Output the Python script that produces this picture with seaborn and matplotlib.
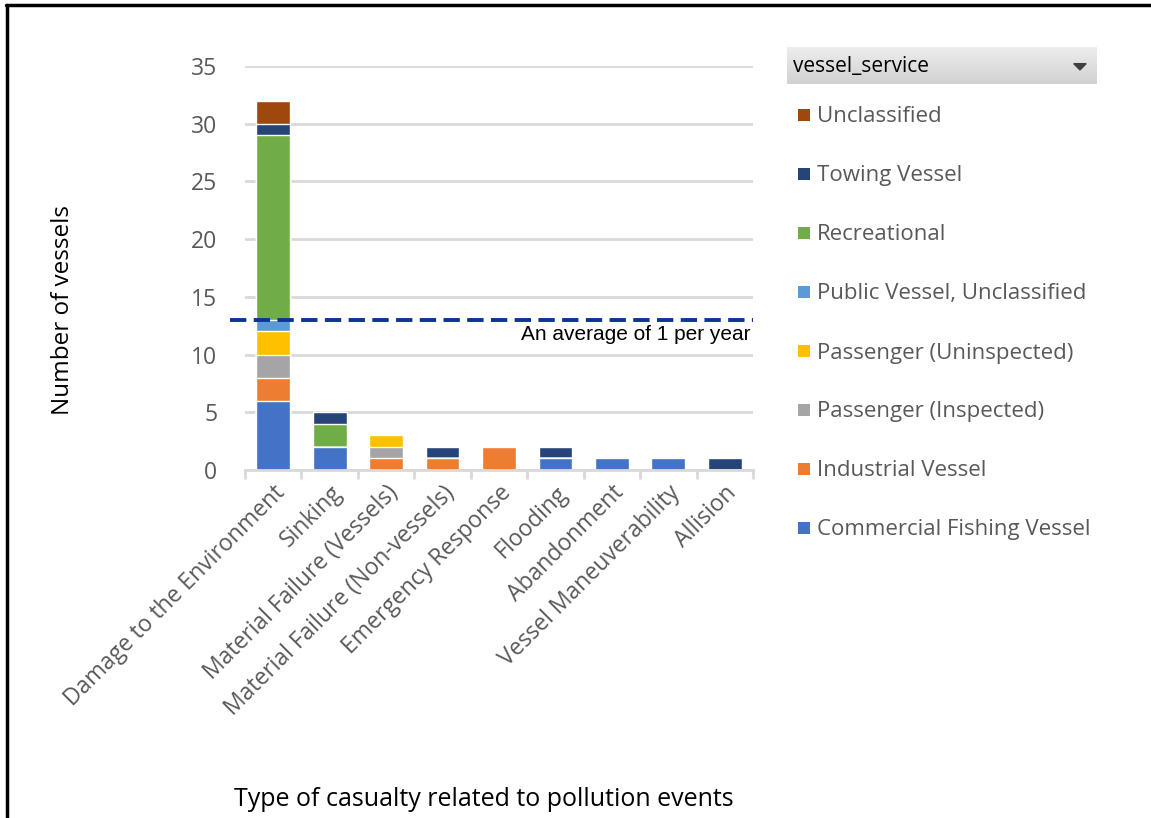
import numpy as np
import pandas as pd
import matplotlib
matplotlib.use("Agg")
import matplotlib.pyplot as plt
from matplotlib.patches import Rectangle, Polygon
from matplotlib.lines import Line2D
import seaborn as sns

# Casualty types (x categories)
casualty_types = [
    "Damage to the Environment", "Sinking", "Material Failure (Vessels)",
    "Material Failure (Non-vessels)", "Emergency Response", "Flooding",
    "Abandonment", "Vessel Maneuverability", "Allision",
]

# Vessel service levels, bottom of the stack first
services = [
    "Commercial Fishing Vessel", "Industrial Vessel", "Passenger (Inspected)",
    "Passenger (Uninspected)", "Public Vessel, Unclassified", "Recreational",
    "Towing Vessel", "Unclassified",
]

commercial_fishing = [6, 2, 0, 0, 0, 1, 1, 1, 0]
industrial = [2, 0, 1, 1, 2, 0, 0, 0, 0]
passenger_inspected = [2, 0, 1, 0, 0, 0, 0, 0, 0]
passenger_uninspected = [2, 0, 1, 0, 0, 0, 0, 0, 0]
public_vessel = [1, 0, 0, 0, 0, 0, 0, 0, 0]
recreational = [16, 2, 0, 0, 0, 0, 0, 0, 0]
towing = [1, 1, 0, 1, 0, 1, 0, 0, 1]
unclassified = [2, 0, 0, 0, 0, 0, 0, 0, 0]

average_per_year = 13
y_ticks = [0, 5, 10, 15, 20, 25, 30, 35]

colors = ["#4472C4", "#ED7D31", "#A5A5A5", "#FFC000",
          "#5B9BD5", "#70AD47", "#264478", "#9E480E"]

series = [commercial_fishing, industrial, passenger_inspected, passenger_uninspected,
          public_vessel, recreational, towing, unclassified]

df = pd.DataFrame({"casualty": casualty_types})
cum = np.zeros(len(casualty_types))
for name, vals in zip(services, series):
    cum = cum + np.array(vals)
    df[name] = cum.copy()

sns.set_theme(style="white")
plt.rcParams["font.family"] = ["Open Sans", "DejaVu Sans"]

fig = plt.figure(figsize=(11.51, 8.18), dpi=100)
ax = fig.add_axes([245 / 1151, 1 - 470 / 818, (753 - 245) / 1151, (470 - 66) / 818])

# Draw cumulative totals from the top layer down so lower layers overlay
for name, color in reversed(list(zip(services, colors))):
    sns.barplot(data=df, x="casualty", y=name, color=color, width=0.6,
                saturation=1, ax=ax, order=casualty_types, zorder=3)

ax.set_ylim(0, 35)
ax.set_xlim(-0.5, len(casualty_types) - 0.5)
ax.set_yticks(y_ticks)
ax.yaxis.grid(True, color="#d9d9d9", linewidth=2, zorder=0)
ax.set_axisbelow(True)
for s in ["top", "right", "left"]:
    ax.spines[s].set_visible(False)
ax.spines["bottom"].set_color("#d9d9d9")
ax.spines["bottom"].set_linewidth(2)
ax.spines["bottom"].set_zorder(4)

ax.tick_params(axis="y", labelsize=16.5, labelcolor="#595959", length=0, pad=20)
ax.set_xticks(np.arange(len(casualty_types)))
ax.set_xticklabels(casualty_types, rotation=45, ha="right", rotation_mode="anchor",
                   fontsize=16.5, color="#595959")
ax.tick_params(axis="x", length=0, pad=8)
# Category boundary tick marks
for b in np.arange(-0.5, len(casualty_types)):
    ax.plot([b, b], [0, -0.7], color="#d9d9d9", lw=2, clip_on=False, zorder=4)

ax.set_xlabel("Type of casualty related to pollution events", fontsize=18,
              color="black")
ax.set_ylabel("Number of vessels", fontsize=17.5, color="black")
ax.xaxis.set_label_coords(0.47, -0.785)
ax.yaxis.set_label_coords(-0.335, 0.396)

# Average reference line
ax.axhline(average_per_year, xmin=-0.03, xmax=1.0, color="#0A3595", lw=2.8,
           linestyle=(0, (4.2, 1.9)), clip_on=False, zorder=5)
ax.text(len(casualty_types) - 0.55, average_per_year - 0.45, "An average of 1 per year",
        ha="right", va="top", fontsize=15, color="black", family="Liberation Sans",
        zorder=6)

# Legend header with gradient fill
hax = fig.add_axes([787 / 1151, 1 - 84 / 818, (1097 - 787) / 1151, 37 / 818])
grad = np.linspace(0.93, 0.82, 50).reshape(-1, 1)
hax.imshow(np.dstack([grad, grad, grad]), aspect="auto", extent=[0, 1, 0, 1])
hax.set_xlim(0, 1)
hax.set_ylim(0, 1)
hax.axis("off")
hax.text(0.02, 0.48, "vessel_service", va="center", ha="left", fontsize=15, color="black")
hax.add_patch(Polygon([[0.925, 0.55], [0.965, 0.55], [0.945, 0.38]], closed=True,
                      color="#404040"))

# Legend entries, top entry is the top of the stack
legend_y = [115, 174, 233, 292, 351, 410, 469, 528]
for yy, name, color in zip(legend_y, reversed(services), reversed(colors)):
    fig.patches.append(Rectangle((798 / 1151, 1 - (yy + 6) / 818), 12 / 1151, 12 / 818,
                                 transform=fig.transFigure, facecolor=color,
                                 edgecolor="none"))
    fig.text(817 / 1151, 1 - (yy + 2) / 818, name, va="center", ha="left", fontsize=16,
             color="#595959")

# Frame lines along top and left edges
fig.add_artist(Line2D([6 / 1151, 1], [1 - 5 / 818, 1 - 5 / 818], color="black", lw=2.5,
                      transform=fig.transFigure))
fig.add_artist(Line2D([7 / 1151, 7 / 1151], [0, 1 - 5 / 818], color="black", lw=2.5,
                      transform=fig.transFigure))

fig.savefig("out.png", dpi=100)
